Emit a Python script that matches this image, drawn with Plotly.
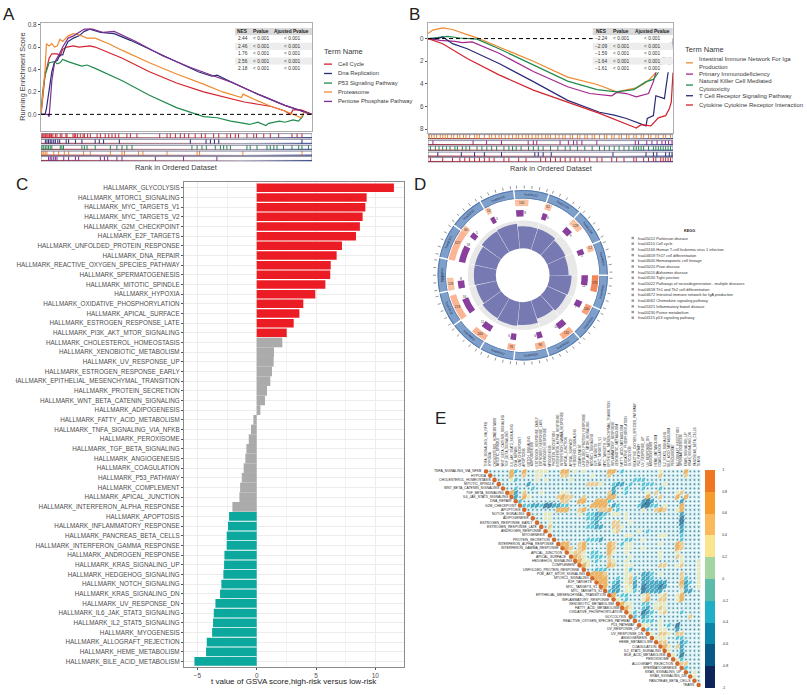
import math
import plotly.graph_objects as go

W, H = 807, 695
FONT = "Liberation Sans"

# ---------- Panel A data ----------
a_terms = ["Cell Cycle", "Dna Replication", "P53 Signaling Pathway", "Proteasome", "Pentose Phosphate Pathway"]
a_colors = ["#D3232E", "#2A2A78", "#1F8B4C", "#F08A2F", "#7D2E90"]
a_cell_x = [0,0.8,1.5,2.5,3,4,6,7,8,9.5,12,14,18,20,25,30,40,50,60,70,75,80,85,90,92,93,96,98,100]
a_cell_y = [0,.2,.35,.45,.5,.54,.54,.52,.58,.6,.61,.6,.61,.6,.55,.5,.38,.28,.2,.14,.11,.09,.07,.03,0,.04,.04,.02,0]
a_dna_x = [0,1.5,2,3,4,5,6,7,8,9,10,12,14,16,18,22,27,33,40,50,58,63,65,70,80,90,100]
a_dna_y = [0,0,.05,.2,.38,.47,.48,.53,.53,.6,.65,.68,.7,.74,.76,.73,.72,.66,.58,.47,.38,.34,.35,.29,.18,.08,0]
a_p53_x = [0,0.6,1.5,3,5,6,7,8,10,15,17,20,30,40,50,60,65,70,75,77,80,83,84,88,90,93,95,96.5,97,100]
a_p53_y = [0,.2,.35,.46,.47,.45,.46,.49,.47,.43,.44,.41,.3,.17,.06,-.02,-.03,-.06,-.08,-.09,-.07,-.1,-.08,-.06,-.07,-.05,-.06,-.02,.02,0]
a_pro_x = [0,0.8,1.5,2,3,4,5,6,7,8,10,12,14,17,20,25,30,40,50,60,67,74,74.5,80,85,90,94,96,97,100]
a_pro_y = [0,.2,.4,.63,.61,.63,.6,.61,.67,.65,.7,.72,.71,.68,.68,.63,.57,.46,.36,.27,.2,.15,.18,.12,.07,.03,-.01,-.03,.02,0]
a_pen_x = [0,2.5,3,3.5,4,5,6,7,8,10,12,14,16,19,23,27,35,45,55,64,70,80,90,100]
a_pen_y = [0,0,-.02,.15,.3,.46,.5,.55,.6,.68,.7,.73,.76,.76,.73,.74,.65,.52,.42,.34,.29,.18,.08,0]
a_ticks = [0, .2, .4, .6, .8]
a_nes = ["2.44", "2.46", "1.76", "2.56", "2.18"]

a_rug = [
 [.4,.7,1.1,1.5,1.8,2.2,2.6,3.1,3.4,3.9,4.4,5.3,5.9,7.1,7.7,9.2,9.6,11.8,12.3,12.8,13.5,14.5,15.5,16,17.2,18.2,20.7,21.9,23.7,25,26.2,27.4,28.7,31.7,33,35.4,43.8,46.5,47.7,49.6,51.4,52.9,54.5,56.9,59.2,60.6,63.7,65.6,68.6,69.9,71.7,72.9,76,78.5,79.5,82.2,84.6,87.7,92.6,94.5,96.3],
 [1.6,2.2,2.8,3.4,4,4.7,5.3,6.2,6.9,9.3,10.2,12.7,15.1,20,21.5,23.1,28.9,55.1,60.9,62.5,64,65.6,96.3],
 [.4,1,1.6,2.2,2.8,3.4,4,7.1,7.7,8.3,15.1,16,17,20,25.6,28,29.9,31.7,33.6,55.7,57.6,59.4,61,64.3,66.2,67.4,68.6,69.9,76,77.2,79.7,83.4,84.6,85.9,87.1,89.5,92.6,95.1,96.3,98.7],
 [.4,1,1.6,2.2,4.7,6.5,8.6,10.2,15.7,18.2,25.6,29.9,30.8,36,37.6,46.5,57.6,58.5,74.5,96.3],
 [2.8,3.4,4,4.7,5.3,5.9,8.4,10.2,12.7,13.9,21.9,23.4,24.6,28,29.9,42.2,52.6,64.9],
]

# ---------- Panel B data ----------
b_terms = ["Intestinal Immune Network For Iga<br>Production", "Primary Immunodeficiency",
           "Natural Killer Cell Mediated<br>Cytotoxicity", "T Cell Receptor Signaling Pathway",
           "Cytokine Cytokine Receptor Interaction"]
b_colors = ["#F08A2F", "#A3268C", "#1F8B4C", "#2A2A78", "#D3232E"]
b_ora_x = [0,2,6,10,16,20,29,43,57,69,77,81,85,88,90,93,100]
b_ora_y = [.45,.75,.95,.8,.35,.06,-.75,-2,-3.4,-4.05,-4.7,-4.5,-4.35,-4,-3.7,-3,0]
b_pur_x = [0,5,11,14,18,29,43,57,66,75,77,81,85,90,92,93,100]
b_pur_y = [0,-.15,-.25,-.35,-.3,-1.3,-2.9,-4.25,-4.85,-5.05,-4.75,-4.85,-5.15,-4.85,-3.8,-3,0]
b_grn_x = [0,3,8,13,20,29,43,57,69,77,84,89,92,94,100]
b_grn_y = [0,.05,.2,.05,-.05,-.9,-2.35,-3.75,-4.5,-4.7,-4.5,-3.8,-3.6,-3,0]
b_nav_x = [0,4,6,10,16,29,43,57,70,76,81,89,89.5,92,93,96.5,97,98,100]
b_nav_y = [0,0,.15,-.45,-.9,-2.2,-3.8,-5.45,-6.5,-6.75,-7.05,-7.7,-7.05,-6.8,-5.05,-5.3,-4.5,-3,0]
b_red_x = [0,6,16,29,43,57,70,84,85,87,91,94,97,98.5,99.3,100]
b_red_y = [0,-.45,-1.75,-3.2,-4.55,-5.6,-6.6,-7.8,-7.9,-7.6,-7.7,-7,-6.8,-6.2,-5.6,-3]
b_ticks = [0, -2, -4, -6, -8]
b_tick_text = ["0", "2", "4", "6", "8"]
b_nes = ["\u22122.24", "\u22122.09", "\u22121.59", "\u22121.64", "\u22121.61"]

b_rug = [
 [.5,1.5,2.5,3.5,5,6,7,8,9.5,10.5,12,13,14.5,15.5,17,19,20,21,23,25,26,27.5,29,30,31.5,33,34.5,36,37,38.5,40,41,42.5,44,45,46.5,48,49,50,52,53.5,55,56,58,59,61,62,64,65,67,68,70,72,73,75,76,78,79,81,82,84,85,87,88,90,91,93,94,96,97,99],
 [2,18.4,23.9,30,40.9,43,44.4,53.9,57.3,59.4,60.8,62.8,68.9,84.6,85.9,89.3,91.4,93.5,95.5,96.9,98.2,99.6],
 [1,3,4.5,6,7.5,9,11,12,14,15.5,17,20,22,24,26,28,31,33,34.5,36,38,41,43,45,47,50,53,56,58,61,64,67,70,72,74,76,78,80,82,84,85,86,87,88,90,92,93,94,95,96,97,98,99],
 [4,13.6,19,23,30,43.6,45,47,50.3,75.5,89,92,93.4,97,98.5,99.6],
 [1,6,10,13,15,17,19,21,23,25,27,31,33,37,40,46,48,50,52,54,56,58,60,62,64,66,69,71,75,77,80,84,85,88,90,92,93,95,96,97,98,99],
]

table_header = ["NES", "Pvalue", "Ajusted Pvalue"]
table_p = "< 0.001"

# ---------- Panel C data ----------
c_terms = ["GLYCOLYSIS","MTORC1_SIGNALING","MYC_TARGETS_V1","MYC_TARGETS_V2","G2M_CHECKPOINT","E2F_TARGETS",
 "UNFOLDED_PROTEIN_RESPONSE","DNA_REPAIR","REACTIVE_OXYGEN_SPECIES_PATHWAY","SPERMATOGENESIS","MITOTIC_SPINDLE",
 "HYPOXIA","OXIDATIVE_PHOSPHORYLATION","APICAL_SURFACE","ESTROGEN_RESPONSE_LATE","PI3K_AKT_MTOR_SIGNALING",
 "CHOLESTEROL_HOMEOSTASIS","XENOBIOTIC_METABOLISM","UV_RESPONSE_UP","ESTROGEN_RESPONSE_EARLY",
 "EPITHELIAL_MESENCHYMAL_TRANSITION","PROTEIN_SECRETION","WNT_BETA_CATENIN_SIGNALING","ADIPOGENESIS",
 "FATTY_ACID_METABOLISM","TNFA_SIGNALING_VIA_NFKB","PEROXISOME","TGF_BETA_SIGNALING","ANGIOGENESIS","COAGULATION",
 "P53_PATHWAY","COMPLEMENT","APICAL_JUNCTION","INTERFERON_ALPHA_RESPONSE","APOPTOSIS","INFLAMMATORY_RESPONSE",
 "PANCREAS_BETA_CELLS","INTERFERON_GAMMA_RESPONSE","ANDROGEN_RESPONSE","KRAS_SIGNALING_UP","HEDGEHOG_SIGNALING",
 "NOTCH_SIGNALING","KRAS_SIGNALING_DN","UV_RESPONSE_DN","IL6_JAK_STAT3_SIGNALING","IL2_STAT5_SIGNALING",
 "MYOGENESIS","ALLOGRAFT_REJECTION","HEME_METABOLISM","BILE_ACID_METABOLISM"]
c_values = [11.57,9.27,9.16,8.93,8.7,8.37,7.19,6.74,6.24,6.2,5.79,4.94,3.93,3.6,3.12,2.53,
            2.16,1.46,1.43,1.29,1.15,.87,.7,.31,-.28,-.48,-.67,-.87,-.96,-1.1,-1.26,-1.4,-1.46,-2.05,
            -2.33,-2.42,-2.53,-2.53,-2.72,-2.75,-2.81,-2.98,-3.09,-3.48,-3.62,-3.68,-3.76,-4.21,-4.27,-5.25]
c_group = ["up"]*16 + ["ns"]*18 + ["down"]*16
c_palette = {"up": "#EC1C24", "ns": "#ABABAB", "down": "#0CA79D"}
c_bar_width = {"up": .88, "ns": 1.0, "down": .9}

# ---------- Panel D data ----------
d_ids = ["hsa05012","hsa04110","hsa05166","hsa04659","hsa04640","hsa05020","hsa05010","hsa04530",
         "hsa05022","hsa04658","hsa04672","hsa04062","hsa05321","hsa00230","hsa04115"]
d_names = ["Parkinson disease","Cell cycle","Human T-cell leukemia virus 1 infection","Th17 cell differentiation",
           "Hematopoietic cell lineage","Prion disease","Alzheimer disease","Tight junction",
           "Pathways of neurodegeneration - multiple diseases","Th1 and Th2 cell differentiation",
           "Intestinal immune network for IgA production","Chemokine signaling pathway",
           "Inflammatory bowel disease","Purine metabolism","p53 signaling pathway"]
d_start = [-6,18,42,66,90,114,138,162,186,210,234,258,282,306,330]
d_peach = [10.5,5,10,5,13,8,10,8,6,12,20,10,28,5,4]
d_purple = [6.8,4.5,7,5,9,6,8,5,5,9,14,7,15,5,4]
d_peach_col = ["#FBC3A4","#FBC3A4","#FBC3A4","#FBC3A4","#F1885C","#F6A07C","#F9AE88","#FBB594","#FBB594",
               "#FBB594","#FBB594","#FBC3A4","#FBB594","#FBC3A4","#FBC3A4"]
d_blue = [49,49,47,46,49,48,46,50,51,50,48,49,49,51,52]
d_peach_n = [130,62,128,52,175,100,132,96,76,164,218,128,327,60,53]
d_purple_n = [8,6,9,5,11,7,10,6,6,11,16,8,18,5,5]
d_tick_offsets = [2,7,12,17,22]

# ---------- Panel E data ----------
e_terms = ["TNFA_SIGNALING_VIA_NFKB","HYPOXIA","CHOLESTEROL_HOMEOSTASIS","MITOTIC_SPINDLE","WNT_BETA_CATENIN_SIGNALING",
 "TGF_BETA_SIGNALING","IL6_JAK_STAT3_SIGNALING","DNA_REPAIR","G2M_CHECKPOINT","APOPTOSIS","NOTCH_SIGNALING","ADIPOGENESIS",
 "ESTROGEN_RESPONSE_EARLY","ESTROGEN_RESPONSE_LATE","ANDROGEN_RESPONSE","MYOGENESIS","PROTEIN_SECRETION",
 "INTERFERON_ALPHA_RESPONSE","INTERFERON_GAMMA_RESPONSE","APICAL_JUNCTION","APICAL_SURFACE","HEDGEHOG_SIGNALING",
 "COMPLEMENT","UNFOLDED_PROTEIN_RESPONSE","PI3K_AKT_MTOR_SIGNALING","MTORC1_SIGNALING","E2F_TARGETS","MYC_TARGETS_V1",
 "MYC_TARGETS_V2","EPITHELIAL_MESENCHYMAL_TRANSITION","INFLAMMATORY_RESPONSE","XENOBIOTIC_METABOLISM","FATTY_ACID_METABOLISM",
 "OXIDATIVE_PHOSPHORYLATION","GLYCOLYSIS","REACTIVE_OXYGEN_SPECIES_PATHWAY","P53_PATHWAY","UV_RESPONSE_UP","UV_RESPONSE_DN",
 "ANGIOGENESIS","HEME_METABOLISM","COAGULATION","IL2_STAT5_SIGNALING","BILE_ACID_METABOLISM","PEROXISOME",
 "ALLOGRAFT_REJECTION","SPERMATOGENESIS","KRAS_SIGNALING_UP","KRAS_SIGNALING_DN","PANCREAS_BETA_CELLS","TEARS"]
e_levels = {"O": .75, "o": .5, "y": .3, "c": -.35, "b": -.55, "N": -.8}
e_marks = {
 0:"6O 7c 9O 12y 13y 14y 18O 19O 21y 23y 29O 30O 32c 41y 47O",
 1:"6O 9o 12y 13y 18o 19o 25y 29o 41o 47o",
 2:"6y 7c 12y 14y 20y 35c 36c 37c",
 3:"10b 24o 25o 26o 27y 30c 31b 32b 34c 37c 38c 39c 42y",
 4:"7c 11c 30b 33c 37c 41c",
 5:"6O 7b 9o 13y 18y 19y 29o 30b 33c 38y 40o 45y 46o",
 6:"7b 9O 10y 17o 18O 19o 20o 23o 29O 30O 38O 41o 45O 47O",
 7:"8c 18o 19o 22O 23O 26O 27O 28O 29c 37b 38N 39b 46b",
 8:"9c 10c 11b 12b 13c 14N 15N 16b 17b 18c 19c 25O 26O 27O 28O 30b 31c 36c 37N 38N 39c 40c 42y 46O",
 9:"17O 18O 19O 22o 23O 27o 28o 29O 31c 37y 40o 41O 42o 45y 46O",
 10:"14y 15y 22y 24c 25c 26b 27b 28c 30y 31y 33y 46b",
 11:"14y 15y 24c 25c 26b 27c 33y 46N",
 12:"15y 25c 26b 30o 31o 34y 46N",
 13:"15o 24c 25c 26b 27b 30o 31o 32y 46b",
 14:"15y 30y 31o 36y 38c 46b",
 15:"33y 34y 41y 42y 46c",
 16:"24c 25c 26c 27b 33c 34c 37y 46c",
 17:"18O 19O 22o 23O 29O 30o 32c 33y 34y 41y 45O 46o",
 18:"19O 20o 22o 23O 29O 30o 33y 34y 37y 45O 46o",
 19:"20y 21o 22o 23y 25c 26c 29O 30y 33y 41y 45y",
 20:"21O 22o 23y 25c 26c 27c 29o 34y 41y 45o 46y",
 21:"22O 23y 24y 26c 29o 30y 33y 46y 50y",
 22:"23O 24y 29O 30o 33y 34y 41o 42o 45y 46o 50y",
 23:"26c 27c 28c 33y 34c 50y",
 24:"25O 26O 27O 28o 33y 34y 37b 38b 39c 41y 46o 50y",
 25:"26O 27O 28O 31c 33y 34o 35c 37b 38b 39c 46o 47c 50y",
 26:"27O 28O 30c 31b 33y 34o 35b 37b 38b 39b 40b 41b 42b 46O 47b 48c 50y",
 27:"28O 30b 31b 33y 34y 35b 37N 38b 39b 40b 41N 42b 46o 47b 50y",
 28:"29c 30b 31b 33y 34y 35c 37N 38b 39b 40b 41b 46y 47b 48b",
 29:"30O 32c 33c 37y 38o 41y 42o 45y 46O",
 30:"31y 33c 37y 38O 41o 42o 45y 46O",
 31:"32O 33y 34y 37c 38c 40y 41y 42y",
 32:"33O 34y 37c 38b 40y 41o 42y",
 33:"34y 35c 37N 38b 39c 41y 42o 46c",
 34:"35c 37b 38c 48o",
 35:"37c 38c 39c 41y",
 36:"37y 38y 41y 43c 45N",
 37:"38c 41y 42y 45b",
 38:"39y 41o 42o 43y 45o 46o",
 39:"40y 41y 42y 45c 46c",
 40:"41o 42o 46b 47c",
 41:"42O 43y 45o 46b",
 42:"43y 46b",
 43:"44y 46N",
 44:"45y 46c",
 45:"46o 47o",
 46:"47c",
 47:"49y",
 48:"49y",
}
e_bins = ["#0D2559","#075A85","#0B86A9","#1FB0C8","#5DBBA9","#A4D4A0","#FBE48F","#FAB95B","#F59C2D","#EF7622"]
e_bar_ticks = [1,.8,.6,.4,.2,0,-.2,-.4,-.6,-.8,-1]


def hd(a, b):
    return [a / W, b / W]


def vd(top, bot):
    return [1 - bot / H, 1 - top / H]


annos, shapes = [], []


def text(x, y, s, size, color="#222222", anchor="left", angle=0):
    annos.append(dict(xref="paper", yref="paper", x=x / W, y=1 - y / H, text=s, showarrow=False,
                      xanchor=anchor, yanchor="middle", textangle=angle, borderpad=0, align="left",
                      font=dict(size=size, color=color, family=FONT)))


def line_key(x0, x1, y, color):
    shapes.append(dict(type="line", xref="paper", yref="paper", x0=x0 / W, x1=x1 / W, y0=1 - y / H, y1=1 - y / H,
                       line=dict(color=color, width=1.3)))


def box(x0, x1, y0, y1, fill):
    shapes.append(dict(type="rect", xref="paper", yref="paper", x0=x0 / W, x1=x1 / W, y0=1 - y0 / H, y1=1 - y1 / H,
                       fillcolor=fill, line_width=0, layer="above"))


fig = go.Figure()

# ---------- A ----------
for nm, c, xs, ys in zip(a_terms, a_colors, [a_cell_x, a_dna_x, a_p53_x, a_pro_x, a_pen_x],
                         [a_cell_y, a_dna_y, a_p53_y, a_pro_y, a_pen_y]):
    fig.add_trace(go.Scatter(x=xs, y=ys, mode="lines", name=nm, line=dict(color=c, width=1.2), xaxis="x", yaxis="y"))
fig.add_trace(go.Scatter(x=[0, 100], y=[0, 0], mode="lines", line=dict(color="black", width=1, dash="4px,3px"), xaxis="x", yaxis="y"))

# ---------- B ----------
for nm, c, xs, ys in zip(b_terms, b_colors, [b_ora_x, b_pur_x, b_grn_x, b_nav_x, b_red_x],
                         [b_ora_y, b_pur_y, b_grn_y, b_nav_y, b_red_y]):
    fig.add_trace(go.Scatter(x=xs, y=ys, mode="lines", name=nm, line=dict(color=c, width=1.2), xaxis="x3", yaxis="y3"))
fig.add_trace(go.Scatter(x=[0, 100], y=[0, 0], mode="lines", line=dict(color="black", width=1, dash="4px,3px"), xaxis="x3", yaxis="y3"))

# ---------- rugs ----------
gradient_stops = [0, 10, 20, 30, 40, 50, 60, 70, 80, 90, 100]
gradient_rank = [1, .85, .7, .55, .45, .35, .25, .1, -.2, -.6, -1]


def rugs(rows, strip_top, colors, xn, yn):
    for rug, top, c in zip(rows, strip_top, colors):
        bot = top + 4.4
        fig.add_trace(go.Heatmap(x=gradient_stops, y0=bot - .5, dy=1, z=[gradient_rank], zmin=-1, zmax=1, showscale=False,
                                 colorscale=[[0, "#2B4C9B"], [.5, "#F6E8E8"], [1, "#C9302C"]], zsmooth="best",
                                 xaxis=xn, yaxis=yn, hoverinfo="skip"))
        xs, ys = [], []
        for v in rug:
            xs += [v, v, None]
            ys += [top, bot, None]
        fig.add_trace(go.Scatter(x=xs, y=ys, mode="lines", line=dict(color=c, width=1), xaxis=xn, yaxis=yn))
        shapes.append(dict(type="rect", xref=xn, yref=yn, x0=0, x1=100, y0=top, y1=bot, line=dict(color="#4A4A70", width=.6)))


a_strip_top = [132, 137.8, 143.8, 149.6, 155]
b_strip_top = [133, 139, 144.6, 150.6, 156]
rugs(a_rug, a_strip_top, a_colors, "x2", "y2")
rugs(b_rug, b_strip_top, b_colors, "x4", "y4")


# ---------- stats tables ----------
def stats_table(left, col_w, nes):
    edges = [left, left + col_w[0], left + col_w[0] + col_w[1], left + sum(col_w)]
    top, rh = 26, 7.4
    box(edges[0], edges[3], top, top + rh, "#D9D9D9")
    for j, h in enumerate(table_header):
        text((edges[j] + edges[j + 1]) / 2, top + rh / 2, "<b>" + h + "</b>", 4.8, "#222222", "center")
    for i, v in enumerate(nes):
        y0 = top + rh * (i + 1)
        box(edges[0], edges[3], y0, y0 + rh, "#FFFFFF" if i % 2 == 0 else "#EDEDED")
        for j, s in enumerate([v, table_p, table_p]):
            text((edges[j] + edges[j + 1]) / 2, y0 + rh / 2, s.replace("<", "&lt;"), 4.8, "#333333", "center")


stats_table(235, [15.7, 21, 40.3], a_nes)
stats_table(592.7, [16.7, 22.3, 41], b_nes)

# ---------- C ----------
fig.add_trace(go.Bar(x=c_values, y=["HALLMARK_" + t for t in c_terms], orientation="h",
                     width=[c_bar_width[g] for g in c_group],
                     marker=dict(color=[c_palette[g] for g in c_group], line_width=0), xaxis="x5", yaxis="y5"))


# ---------- D ----------
def pbar(theta, base, r, width, color):
    fig.add_trace(go.Barpolar(theta=theta, base=base, r=r, width=width, marker=dict(color=color, line_width=0), subplot="polar"))


n = len(d_start)
mid = [s + 12 for s in d_start]
pbar(mid, [27] * n, [28] * n, [23.4] * n, "#E8E8E8")
pbar(mid, [27] * n, [b - 27 for b in d_blue], [23.4] * n, "#7679B2")
pbar([s + w / 2 for s, w in zip(d_start, d_peach)], [69.5] * n, [6.5] * n, d_peach, d_peach_col)
pbar([s + w / 2 for s, w in zip(d_start, d_purple)], [59] * n, [6.5] * n, d_purple, "#8A3F9C")
pbar(mid, [77] * n, [8.4] * n, [23] * n, "#7E9FCA")
pbar(mid, [84.4] * n, [1] * n, [23] * n, "#5479AC")
pbar(mid, [77] * n, [.6] * n, [23] * n, "#5479AC")
t_th, t_r = [], []
for s in d_start:
    for o in d_tick_offsets:
        t_th += [s + o, s + o, None]
        t_r += [87, 90, None]
fig.add_trace(go.Scatterpolar(theta=t_th, r=t_r, mode="lines", line=dict(color="#8A8A8A", width=.9), subplot="polar"))
fig.add_trace(go.Scatterpolar(theta=[s + w / 2 for s, w in zip(d_start, d_peach)], r=[72.7] * n, mode="text",
                              text=[str(v) for v in d_peach_n], textfont=dict(size=3.2, color="#333333", family=FONT), subplot="polar"))
fig.add_trace(go.Scatterpolar(theta=[s + w + 1.5 for s, w in zip(d_start, d_purple)], r=[62.2] * n, mode="text",
                              text=[str(v) for v in d_purple_n], textfont=dict(size=3.2, color="#333333", family=FONT), subplot="polar"))

# ---------- E ----------
N = len(e_terms)
bx, by, wx, wy, sx, sy, vals, sizes = [], [], [], [], [], [], [], []
for r in range(N):
    marks = {}
    for tok in e_marks.get(r, "").split():
        marks[int(tok[:-1])] = e_levels[tok[-1]]
    for c in range(r + 1, N):
        bx.append(c)
        by.append(r)
        if c in marks:
            sx.append(c)
            sy.append(r)
            vals.append(marks[c])
            sizes.append(3 + 4.5 * abs(marks[c]))
        else:
            wx.append(c)
            wy.append(r)
fig.add_trace(go.Scatter(x=bx, y=by, mode="markers", marker=dict(symbol="square", size=3.7, color="#CDECF2", line_width=0), xaxis="x6", yaxis="y6"))
fig.add_trace(go.Scatter(x=wx, y=wy, mode="markers", marker=dict(symbol="circle", size=1.7, color="#5C8C96", line_width=0), xaxis="x6", yaxis="y6"))
scale = []
for i, c in enumerate(e_bins):
    scale += [[i / 10, c], [(i + 1) / 10, c]]
fig.add_trace(go.Scatter(x=sx, y=sy, mode="markers", xaxis="x6", yaxis="y6",
                         marker=dict(symbol="diamond-tall", angle=40, size=sizes, color=vals, cmin=-1, cmax=1, colorscale=scale, line_width=0,
                                     colorbar=dict(x=705 / W, xanchor="left", y=1 - 469 / H, yanchor="top", len=217.7, lenmode="pixels",
                                                   thickness=9.5, thicknessmode="pixels", outlinewidth=0, xpad=0, ypad=0,
                                                   tickvals=e_bar_ticks, ticktext=[str(t) for t in e_bar_ticks], ticks="outside", ticklen=7,
                                                   tickcolor="rgba(0,0,0,0)", tickfont=dict(size=3.4, color="#222222", family=FONT)))))
fig.add_trace(go.Scatter(x=list(range(N)), y=list(range(N)), mode="markers", marker=dict(symbol="circle", size=4.6, color="#D2692C", line_width=0), xaxis="x6", yaxis="y6"))
for i, t in enumerate(e_terms):
    annos.append(dict(xref="x6", yref="y6", x=i, y=i, text=t, showarrow=False, xanchor="right", yanchor="middle", xshift=-2.6,
                      borderpad=0, font=dict(size=3.4, color="#222222", family=FONT)))
    annos.append(dict(xref="x6", yref="y6", x=i, y=-.45, text=t, showarrow=False, xanchor="center", yanchor="bottom", yshift=2,
                      textangle=-90, borderpad=0, font=dict(size=3.2, color="#222222", family=FONT)))

# ---------- texts ----------
text(2, 13, "A", 17)
text(408, 13, "B", 17)
text(15, 183, "C", 17)
text(413, 183, "D", 17)
text(434, 418, "E", 17)
GREY = "#3A3A3A"
text(23, 75, "Running Enrichment Score", 7.4, GREY, "center", -90)
text(176, 166, "Rank in Ordered Dataset", 7.4, GREY, "center")
text(551, 167, "Rank in Ordered Dataset", 7.4, GREY, "center")
text(294.3, 681.7, "t value of GSVA score,high-risk versus low-risk", 8, "#222222", "center")
text(323, 50, "Term Name", 7.5, GREY)
for nm, c, y in zip(a_terms, a_colors, [62.3, 71.7, 81.3, 90.3, 99.7]):
    line_key(324, 332, y, c)
    text(336.7, y, nm, 5.8, GREY)
text(684, 47.3, "Term Name", 7.5, GREY)
b_legend_y = [61, 72.3, 83.3, 94, 103.3]
for nm, c, y in zip(b_terms, b_colors, b_legend_y):
    line_key(686, 693, y, c)
    text(697.7, y, nm, 6.0, GREY)
text(689, 230, "<b>KEGG</b>", 3.8, "#222222", "center")
for i, (hid, nm) in enumerate(zip(d_ids, d_names)):
    y = 236.7 + i * 5.71
    box(631.5, 634, y - 1.2, y + 1.2, "#9A9A9A")
    text(637, y, hid + " " + nm, 3.9, "#333333")

cx, cy = 522.7, 274
for s, hid in zip(d_start, d_ids):
    th = s + 12
    xp = cx + 80.8 * math.sin(math.radians(th))
    yp = cy - 80.8 * math.cos(math.radians(th))
    ang = th if (th % 360) < 90 or (th % 360) > 270 else th + 180
    text(xp, yp, hid, 3.2, "#1E2C4F", "center", ang)

# clipped label start of the EMT row, as in the reference
box(0, 15.5, 376, 386, "#FFFFFF")

axis_off = dict(visible=False, fixedrange=True)
frame = dict(showline=True, mirror=True, linecolor="#ADADAD", linewidth=1.4, showgrid=False, zeroline=False, ticks="outside",
             ticklen=2, tickcolor="#555555", tickfont=dict(size=6.4, color="#4D4D4D", family=FONT))

fig.update_layout(
    width=W, height=H, autosize=False, margin=dict(l=0, r=0, t=0, b=0), showlegend=False,
    paper_bgcolor="white", plot_bgcolor="white", barmode="overlay",
    font=dict(family=FONT),
    annotations=annos, shapes=shapes,
    xaxis=dict(domain=hd(41, 312), range=[0, 100], showticklabels=False, ticks="", showline=True, mirror=True, linecolor="#ADADAD", linewidth=1.4, showgrid=False, zeroline=False),
    yaxis=dict(domain=vd(21, 129), range=[-.145, .815], tickvals=a_ticks, tickformat=".1f", **frame),
    xaxis2=dict(domain=hd(41, 312), range=[0, 100], anchor="y2", **axis_off),
    yaxis2=dict(domain=vd(130, 161), range=[161, 130], anchor="x2", **axis_off),
    xaxis3=dict(domain=hd(428, 673), range=[0, 100], anchor="y3", showticklabels=False, ticks="", showline=True, mirror=True, linecolor="#ADADAD", linewidth=1.4, showgrid=False, zeroline=False),
    yaxis3=dict(domain=vd(21, 131), range=[-8.3, 1.38], anchor="x3", tickvals=b_ticks, ticktext=b_tick_text, **frame),
    xaxis4=dict(domain=hd(428, 673), range=[0, 100], anchor="y4", **axis_off),
    yaxis4=dict(domain=vd(131, 162), range=[162, 131], anchor="x4", **axis_off),
    xaxis5=dict(domain=hd(184, 404), range=[-6.13, 12.42], anchor="y5", tickvals=[-5, 0, 5, 10], ticktext=["\u22125", "0", "5", "10"],
                showline=True, mirror=True, linecolor="#8C8C8C", linewidth=1.2, zeroline=False, showgrid=True, gridcolor="#ECECEC", gridwidth=.6,
                minor=dict(tickvals=[-2.5, 2.5, 7.5], showgrid=True, gridcolor="#F3F3F3", gridwidth=.4), ticks="outside", ticklen=2, tickcolor="#555555",
                tickfont=dict(size=6.4, color="#4D4D4D", family=FONT)),
    yaxis5=dict(domain=vd(181, 666.7), type="category", range=[49.55, -.55], anchor="x5", showline=True, mirror=True, linecolor="#8C8C8C", linewidth=1.2,
                showgrid=True, gridcolor="#ECECEC", gridwidth=.6, ticks="outside", ticklen=2, tickcolor="#555555", dtick=1,
                tickfont=dict(size=6.3, color="#4D4D4D", family=FONT)),
    xaxis6=dict(domain=hd(483.87, 700.83), range=[-.5, 50.5], anchor="y6", **axis_off),
    yaxis6=dict(domain=vd(468.56, 687.14), range=[50.5, -.5], anchor="x6", **axis_off),
    polar=dict(domain=dict(x=hd(cx - 93, cx + 93), y=vd(cy - 93, cy + 93)), bgcolor="rgba(0,0,0,0)", barmode="overlay",
               radialaxis=dict(visible=False, range=[0, 93]),
               angularaxis=dict(visible=False, direction="clockwise", rotation=90)),
)

fig.write_html("out.html", post_script="document.body.style.margin='0';", config={"displayModeBar": False})
